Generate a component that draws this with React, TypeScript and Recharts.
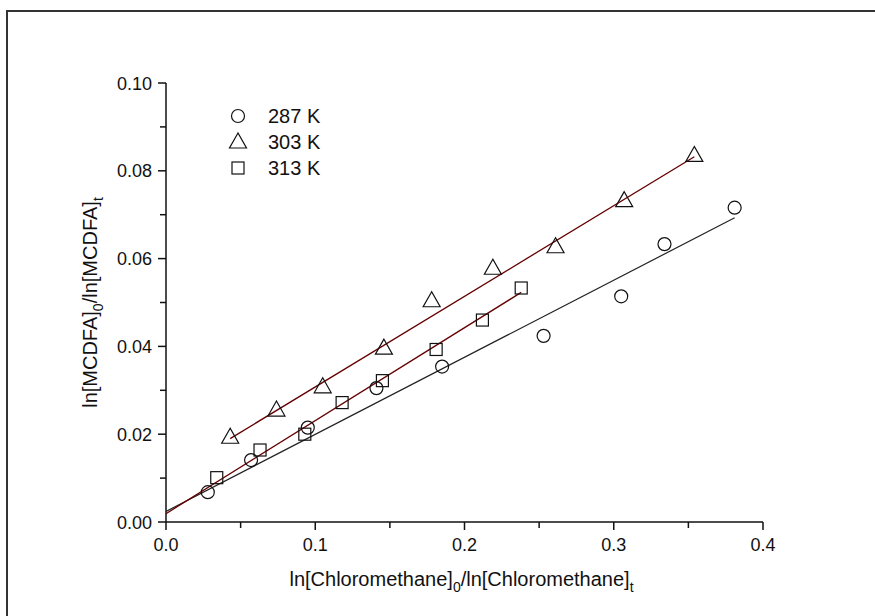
import React from 'react';
import { ScatterChart, Scatter, XAxis, YAxis } from 'recharts';

// ---- data ----
const xTicks = [0, 0.05, 0.1, 0.15, 0.2, 0.25, 0.3, 0.35, 0.4];
const yTicks = [0, 0.01, 0.02, 0.03, 0.04, 0.05, 0.06, 0.07, 0.08, 0.09, 0.1];

const seriesNames = ['287 K', '303 K', '313 K'];

const k287X = [0.028, 0.057, 0.095, 0.141, 0.185, 0.253, 0.305, 0.334, 0.381];
const k287Y = [0.0068, 0.0141, 0.0215, 0.0305, 0.0354, 0.0424, 0.0514, 0.0633, 0.0716];

const k303X = [0.043, 0.074, 0.105, 0.146, 0.178, 0.219, 0.261, 0.307, 0.354];
const k303Y = [0.0193, 0.0255, 0.0308, 0.0396, 0.0504, 0.0578, 0.0627, 0.0732, 0.0835];

const k313X = [0.034, 0.063, 0.093, 0.118, 0.145, 0.181, 0.212, 0.238];
const k313Y = [0.0101, 0.0164, 0.0200, 0.0272, 0.0322, 0.0393, 0.0460, 0.0533];

// linear fit endpoints
const fit287X = [0, 0.381];
const fit287Y = [0.0024, 0.0693];
const fit303X = [0.043, 0.354];
const fit303Y = [0.0190, 0.0832];
const fit313X = [0, 0.238];
const fit313Y = [0.0019, 0.0523];

const zip = (xs: number[], ys: number[]) => xs.map((x, i) => ({ x, y: ys[i] }));

const FONT = "'Liberation Sans', Arial, sans-serif";
const INK = '#111';
const FIT_RED = '#650000';

const CircleMark = (p: any) => (
  <circle cx={p.cx} cy={p.cy} r={6.5} fill="none" stroke={INK} strokeWidth={1.2} />
);
const TriMark = (p: any) => (
  <polygon
    points={`${p.cx},${p.cy - 9} ${p.cx - 8.5},${p.cy + 6} ${p.cx + 8.5},${p.cy + 6}`}
    fill="none"
    stroke={INK}
    strokeWidth={1.2}
  />
);
const SquareMark = (p: any) => (
  <rect x={p.cx - 6} y={p.cy - 6} width={12} height={12} fill="none" stroke={INK} strokeWidth={1.2} />
);
const NoMark = () => <g />;

const XTick = (props: any) => {
  const { x, y, payload } = props;
  const v = payload.value;
  const major = Math.abs(v * 10 - Math.round(v * 10)) < 1e-6;
  const axisY = y - 16;
  return (
    <g>
      <line x1={x} y1={axisY} x2={x} y2={axisY + (major ? 8 : 6)} stroke={INK} strokeWidth={1.5} />
      {major && (
        <text x={x} y={axisY + 29} textAnchor="middle" fontSize={18} fontFamily={FONT} fill={INK}>
          {v.toFixed(1)}
        </text>
      )}
    </g>
  );
};

const YTick = (props: any) => {
  const { x, y, payload } = props;
  const v = payload.value;
  const major = Math.abs(v * 50 - Math.round(v * 50)) < 1e-6;
  const axisX = x + 16;
  return (
    <g>
      <line x1={axisX} y1={y} x2={axisX - (major ? 8 : 6)} y2={y} stroke={INK} strokeWidth={1.5} />
      {major && (
        <text x={axisX - 14} y={y + 6.5} textAnchor="end" fontSize={18} fontFamily={FONT} fill={INK}>
          {v.toFixed(2)}
        </text>
      )}
    </g>
  );
};

const XTitle = (props: any) => {
  const vb = props.viewBox || {};
  const cx = vb.x + vb.width / 2 - 3;
  return (
    <text x={cx} y={586} textAnchor="middle" fontSize={20} fontFamily={FONT} fill={INK}>
      <tspan>ln[Chloromethane]</tspan>
      <tspan dy={6} fontSize={14}>0</tspan>
      <tspan dy={-6}>/ln[Chloromethane]</tspan>
      <tspan dy={6} fontSize={14}>t</tspan>
    </text>
  );
};

const YTitle = (props: any) => {
  const vb = props.viewBox || {};
  const cy = vb.y + vb.height / 2;
  const cx = 97;
  return (
    <text
      x={cx}
      y={cy}
      transform={`rotate(-90 ${cx} ${cy})`}
      textAnchor="middle"
      fontSize={20}
      fontFamily={FONT}
      fill={INK}
    >
      <tspan>ln[MCDFA]</tspan>
      <tspan dy={6} fontSize={14}>0</tspan>
      <tspan dy={-6}>/ln[MCDFA]</tspan>
      <tspan dy={6} fontSize={14}>t</tspan>
    </text>
  );
};

const marks = [CircleMark, TriMark, SquareMark];

const LegendBox = () => (
  <svg width={130} height={80} style={{ overflow: 'visible', display: 'block' }}>
    {seriesNames.map((name, i) => {
      const cy = 13 + i * 26;
      const M = marks[i];
      return (
        <g key={name}>
          <M cx={13} cy={cy} />
          <text x={43} y={cy + 7} fontSize={20} fontFamily={FONT} fill={INK}>
            {name}
          </text>
        </g>
      );
    })}
  </svg>
);

export default function App() {
  return (
    <div style={{ position: 'absolute', left: 0, top: 0, width: 875, height: 616, background: '#fff', overflow: 'hidden' }}>
      <div
        style={{
          position: 'absolute',
          left: 6,
          top: 10,
          width: 880,
          height: 620,
          borderLeft: '2px solid #333',
          borderTop: '2px solid #333',
        }}
      />
      <div style={{ position: 'absolute', left: 0, top: 0 }}>
        <ScatterChart width={875} height={616} margin={{ top: 83, right: 112, left: 66, bottom: 34 }}>
          <XAxis
            type="number"
            dataKey="x"
            domain={[0, 0.4]}
            ticks={xTicks}
            interval={0}
            allowDataOverflow
            height={60}
            tickSize={8}
            tickMargin={8}
            tickLine={false}
            tick={<XTick />}
            axisLine={{ stroke: INK, strokeWidth: 1.5 }}
            label={<XTitle />}
          />
          <YAxis
            type="number"
            dataKey="y"
            domain={[0, 0.1]}
            ticks={yTicks}
            interval={0}
            allowDataOverflow
            width={100}
            tickSize={8}
            tickMargin={8}
            tickLine={false}
            tick={<YTick />}
            axisLine={{ stroke: INK, strokeWidth: 1.5 }}
            label={<YTitle />}
          />
          <Scatter
            name="fit287"
            data={zip(fit287X, fit287Y)}
            line={{ stroke: '#222', strokeWidth: 1.2 }}
            shape={NoMark}
            legendType="none"
            isAnimationActive={false}
          />
          <Scatter
            name="fit303"
            data={zip(fit303X, fit303Y)}
            line={{ stroke: FIT_RED, strokeWidth: 1.3 }}
            shape={NoMark}
            legendType="none"
            isAnimationActive={false}
          />
          <Scatter
            name="fit313"
            data={zip(fit313X, fit313Y)}
            line={{ stroke: FIT_RED, strokeWidth: 1.3 }}
            shape={NoMark}
            legendType="none"
            isAnimationActive={false}
          />
          <Scatter name={seriesNames[0]} data={zip(k287X, k287Y)} shape={CircleMark} isAnimationActive={false} />
          <Scatter name={seriesNames[1]} data={zip(k303X, k303Y)} shape={TriMark} isAnimationActive={false} />
          <Scatter name={seriesNames[2]} data={zip(k313X, k313Y)} shape={SquareMark} isAnimationActive={false} />
        </ScatterChart>
      </div>
      <div style={{ position: 'absolute', left: 225, top: 103 }}>
        <LegendBox />
      </div>
    </div>
  );
}
